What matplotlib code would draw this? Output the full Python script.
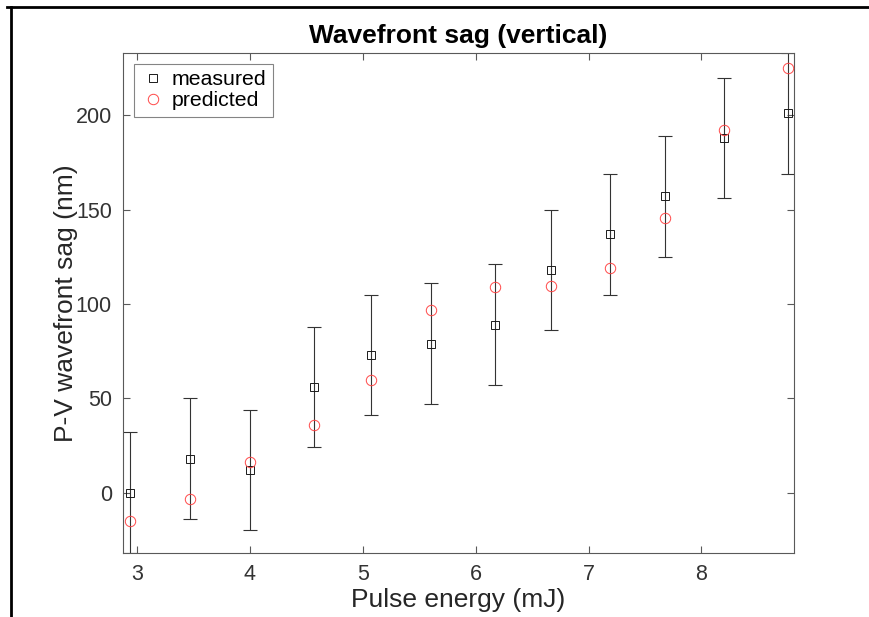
import numpy as np
import matplotlib
matplotlib.use("Agg")
import matplotlib.pyplot as plt
from matplotlib.lines import Line2D

# pulse energy (mJ)
energy = [2.935, 3.47, 4.0, 4.57, 5.07, 5.6, 6.17, 6.67, 7.19, 7.68, 8.2, 8.77]
# P-V wavefront sag (nm)
measured = [0, 18, 12, 56, 73, 79, 89, 118, 137, 157, 188, 201]
predicted = [-15, -3.5, 16, 36, 59.5, 97, 109, 109.5, 119, 145.5, 192, 225]
meas_err = [32, 32, 32, 32, 32, 32, 32, 32, 32, 32, 32, 32]

plt.rcParams['font.family'] = ['Liberation Sans', 'DejaVu Sans']

W, H = 869, 617
fig = plt.figure(figsize=(W / 100, H / 100), dpi=100)
ax = fig.add_axes([123 / W, (H - 553) / H, (794 - 123) / W, (553 - 53) / H])

ax.errorbar(energy, measured, yerr=meas_err, fmt='none', ecolor='0.2',
            elinewidth=0.8, capsize=5, capthick=0.8, zorder=2)
ax.plot(energy, measured, 's', ms=6, mfc='none', mec='0.1', mew=0.7,
        label='measured', zorder=3)
ax.plot(energy, predicted, 'o', ms=7.5, mfc='none', mec='#ff4848', mew=0.7,
        label='predicted', zorder=3)

ax.set_xlim(2.875, 8.82)
ax.set_ylim(-32, 233)
ax.set_xticks([3, 4, 5, 6, 7, 8])
ax.set_yticks([0, 50, 100, 150, 200])

ax.tick_params(direction='in', top=True, right=True, length=5, width=0.8,
               color='0.35', labelsize=15.5, labelcolor='#333333', pad=8)
for s in ax.spines.values():
    s.set_color('0.35')
    s.set_linewidth(0.8)

ax.set_xlabel('Pulse energy (mJ)', fontsize=19, color='#262626', labelpad=2)
ax.set_ylabel('P-V wavefront sag (nm)', fontsize=19, color='#262626', labelpad=-2)
ax.set_title('Wavefront sag (vertical)', fontsize=19, fontweight='bold', pad=7)

leg = ax.legend(loc='upper left', fontsize=15.3, frameon=True, fancybox=False,
                borderpad=0.3, handletextpad=0.3, handlelength=1.2,
                labelspacing=0.1, borderaxespad=0.5)
leg.get_frame().set_edgecolor('0.4')
leg.get_frame().set_linewidth(0.8)

# outer frame of the screenshot
fig.add_artist(Line2D([7 / W, 1], [1 - 7 / H, 1 - 7 / H], color='black', lw=2))
fig.add_artist(Line2D([11 / W, 11 / W], [0, 1 - 7 / H], color='black', lw=2))

fig.savefig('out.png', dpi=100)
